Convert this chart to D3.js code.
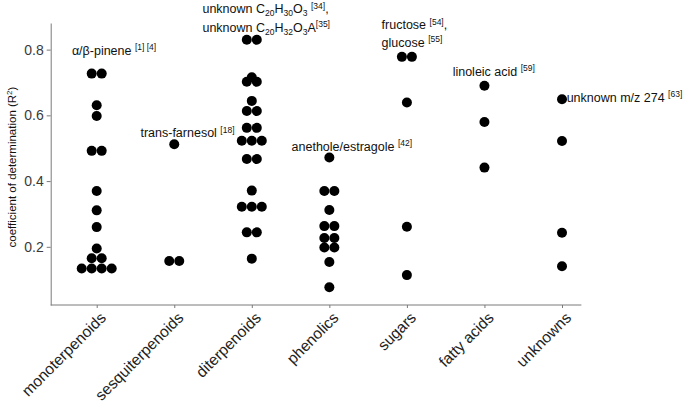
<!DOCTYPE html>
<html>
<head>
<meta charset="utf-8">
<script src="https://cdn.jsdelivr.net/npm/d3@7"></script>
<style>
  body { margin: 0; background: #fff; }
  svg { font-family: "Liberation Sans", Arial, sans-serif; }
</style>
</head>
<body>
<div id="chart"></div>
<script>
// categories on the x axis
var categories = ["monoterpenoids", "sesquiterpenoids", "diterpenoids", "phenolics", "sugars", "fatty acids", "unknowns"];

// R2 values per class (repeated values = dots stacked side by side)
var monoterpenoids = [0.727, 0.727, 0.631, 0.598, 0.492, 0.492, 0.370, 0.311, 0.260, 0.195, 0.165, 0.165, 0.134, 0.134, 0.134, 0.134];
var sesquiterpenoids = [0.512, 0.157, 0.157];
var diterpenoids = [0.830, 0.830, 0.716, 0.702, 0.702, 0.644, 0.613, 0.613, 0.562, 0.562, 0.523, 0.523, 0.523, 0.467, 0.467, 0.371, 0.322, 0.322, 0.322, 0.244, 0.244, 0.164];
var phenolics = [0.472, 0.370, 0.370, 0.312, 0.263, 0.263, 0.227, 0.227, 0.198, 0.198, 0.154, 0.077];
var sugars = [0.778, 0.778, 0.639, 0.261, 0.114];
var fattyAcids = [0.690, 0.580, 0.441];
var unknowns = [0.649, 0.522, 0.243, 0.141];

var yTicks = [0.2, 0.4, 0.6, 0.8];

// annotations: category, x shift (in category units), y (data units, baseline), text segments
var labels = [
  { cat: "monoterpenoids", dx: -0.32, y: 0.784, parts: [["α/β-pinene ", ""], ["[1] [4]", "sup"]] },
  { cat: "sesquiterpenoids", dx: -0.436, y: 0.534, parts: [["trans-farnesol ", ""], ["[18]", "sup"]] },
  { cat: "diterpenoids", dx: -0.636, y: 0.910, parts: [["unknown C", ""], ["20", "sub"], ["H", ""], ["30", "sub"], ["O", ""], ["3", "sub"], [" ", ""], ["[34]", "sup"], [",", ""]] },
  { cat: "diterpenoids", dx: -0.636, y: 0.855, parts: [["unknown C", ""], ["20", "sub"], ["H", ""], ["32", "sub"], ["O", ""], ["3", "sub"], ["A", ""], ["[35]", "sup"]] },
  { cat: "phenolics", dx: -0.487, y: 0.492, parts: [["anethole/estragole ", ""], ["[42]", "sup"]] },
  { cat: "sugars", dx: -0.326, y: 0.862, parts: [["fructose ", ""], ["[54]", "sup"], [",", ""]] },
  { cat: "sugars", dx: -0.326, y: 0.808, parts: [["glucose ", ""], ["[55]", "sup"]] },
  { cat: "fatty acids", dx: -0.41, y: 0.720, parts: [["linoleic acid ", ""], ["[59]", "sup"]] },
  { cat: "unknowns", dx: 0.06, y: 0.642, parts: [["unknown m/z 274 ", ""], ["[63]", "sup"]] }
];

var seriesValues = [monoterpenoids, sesquiterpenoids, diterpenoids, phenolics, sugars, fattyAcids, unknowns];

var width = 685,
    height = 411;

var svg = d3.select("#chart").append("svg")
  .attr("width", width)
  .attr("height", height);

var x = d3.scalePoint().domain(categories).range([96.7, 562]);
var y = d3.scaleLinear().domain([0.023, 0.881]).range([305, 23]);
var step = x.step();
var axisLeftX = 50.7,
    axisBottomY = 305,
    dotR = 5;

// y axis
var yAxis = svg.append("g")
  .attr("transform", `translate(${axisLeftX},0)`)
  .call(d3.axisLeft(y).tickValues(yTicks).tickFormat(d3.format(".1f")).tickSize(4).tickSizeOuter(0).tickPadding(3));
yAxis.select(".domain").attr("stroke", "#7a7a7a");
yAxis.selectAll(".tick line").attr("stroke", "#7a7a7a");
yAxis.selectAll(".tick text")
  .attr("fill", "#3a3a3a")
  .style("font-size", "14px")
  .style("font-family", "'Liberation Sans', Arial, sans-serif");

// x axis
var xAxis = svg.append("g")
  .attr("transform", `translate(0,${axisBottomY})`)
  .call(d3.axisBottom(x).tickSize(3).tickSizeOuter(0).tickFormat(""));
xAxis.select(".domain").remove();
xAxis.selectAll(".tick line").attr("stroke", "#7a7a7a");
xAxis.append("line")
  .attr("x1", axisLeftX)
  .attr("x2", x(categories[categories.length - 1]) + step * 0.25)
  .attr("stroke", "#7a7a7a");

xAxis.selectAll(".tick")
  .append("text")
  .attr("transform", "translate(2,6) rotate(-45)")
  .attr("text-anchor", "end")
  .attr("dy", "0.7em")
  .attr("fill", "#222")
  .style("font-size", "15.5px")
  .style("font-family", "'Liberation Sans', Arial, sans-serif")
  .text(d => d);

// y title
svg.append("text")
  .attr("transform", `translate(12,${(y.range()[0] + y.range()[1]) / 2 + 3}) rotate(-90)`)
  .attr("text-anchor", "middle")
  .attr("dy", "0.35em")
  .style("font-size", "11.5px")
  .attr("fill", "#111")
  .text("coefficient of determination (R")
  .append("tspan").attr("dy", -4).style("font-size", "8px").text("2")
  .select(function() { return this.parentNode; })
  .append("tspan").attr("dy", 4).text(")");

// dots, stacked like a centered dotplot
var dots = [];
categories.forEach((cat, ci) => {
  var rows = d3.groups(seriesValues[ci], v => v);
  rows.forEach(([v, arr]) => {
    arr.forEach((_, i) => {
      dots.push({ cat: cat, value: v, offset: (i - (arr.length - 1) / 2) * dotR * 2 });
    });
  });
});

svg.append("g").selectAll("circle")
  .data(dots)
  .enter().append("circle")
  .attr("cx", d => x(d.cat) + d.offset)
  .attr("cy", d => y(d.value))
  .attr("r", dotR)
  .attr("fill", "#000");

// annotations
var labelG = svg.append("g")
  .style("font-size", "12.5px")
  .attr("fill", "#111");

labels.forEach((lab) => {
  var t = labelG.append("text")
    .attr("x", x(lab.cat) + lab.dx * step)
    .attr("y", y(lab.y));
  var shift = 0;
  lab.parts.forEach(([txt, kind]) => {
    var target = kind == "sup" ? -4.5 : (kind == "sub" ? 3 : 0);
    t.append("tspan")
      .attr("dy", target - shift)
      .style("font-size", kind ? "8.5px" : null)
      .text(txt);
    shift = target;
  });
});
</script>
</body>
</html>
